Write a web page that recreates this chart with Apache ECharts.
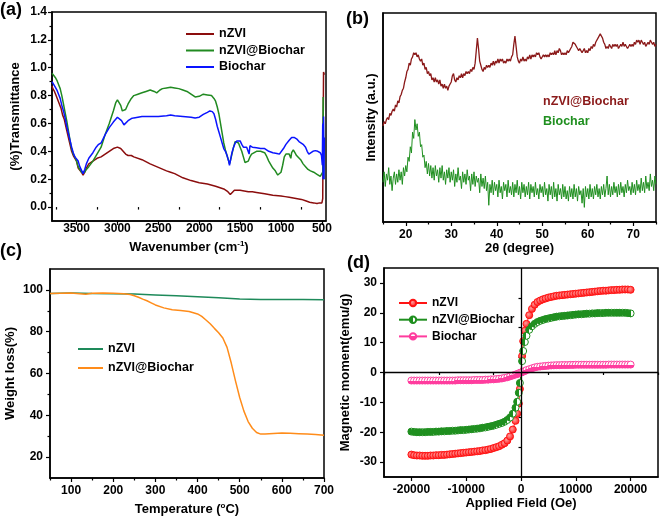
<!DOCTYPE html>
<html><head><meta charset="utf-8">
<script src="https://cdn.jsdelivr.net/npm/echarts@6/dist/echarts.min.js"></script>
<style>html,body{margin:0;padding:0;background:#fff}#c{width:661px;height:517px}</style>
</head><body><div id="c"></div><script>
// ---------- (a) FTIR ----------
const ftirNzviWave = [3800,3790,3780,3770,3760,3750,3740,3730,3720,3710,3700,3690,3680,3670,3660,3650,3640,3620,3600,3580,3560,3540,3520,3500,3480,3460,3440,3420,3400,3380,3350,3300,3250,3200,3150,3100,3050,3000,2960,2930,2900,2870,2830,2800,2700,2600,2500,2400,2350,2300,2200,2100,2000,1900,1800,1700,1650,1620,1600,1570,1550,1500,1450,1400,1380,1350,1300,1200,1100,1000,950,900,850,800,750,700,650,600,560,530,500,490,480,470];
const ftirNzvi = [0.87,0.85,0.86,0.83,0.84,0.80,0.81,0.77,0.78,0.74,0.75,0.71,0.70,0.66,0.67,0.63,0.62,0.55,0.50,0.45,0.40,0.37,0.35,0.33,0.28,0.27,0.25,0.23,0.25,0.28,0.31,0.33,0.35,0.36,0.38,0.40,0.42,0.43,0.42,0.40,0.38,0.37,0.37,0.36,0.34,0.31,0.285,0.26,0.25,0.24,0.21,0.19,0.175,0.165,0.15,0.13,0.11,0.09,0.10,0.12,0.125,0.12,0.115,0.11,0.105,0.11,0.105,0.095,0.085,0.08,0.075,0.07,0.065,0.06,0.055,0.045,0.035,0.03,0.025,0.03,0.03,0.06,0.97,0.95];
const ftirCompWave = [3800,3780,3760,3740,3720,3700,3680,3660,3640,3620,3600,3580,3560,3540,3520,3500,3480,3460,3440,3420,3400,3380,3350,3300,3250,3200,3150,3100,3050,3020,3000,2980,2960,2940,2920,2900,2870,2830,2800,2750,2700,2650,2600,2550,2520,2480,2450,2400,2350,2300,2250,2200,2150,2100,2050,2000,1950,1900,1850,1820,1800,1780,1760,1740,1720,1700,1680,1660,1640,1630,1620,1600,1580,1560,1540,1520,1500,1480,1460,1440,1420,1400,1380,1360,1340,1300,1250,1200,1180,1150,1120,1100,1070,1040,1020,1000,980,960,940,920,900,880,870,850,830,810,790,760,730,700,670,640,600,560,520,500,490,485,480,475];
const ftirComp = [0.96,0.95,0.93,0.91,0.88,0.85,0.80,0.74,0.68,0.62,0.55,0.48,0.42,0.38,0.36,0.33,0.29,0.27,0.25,0.24,0.25,0.27,0.29,0.33,0.38,0.43,0.52,0.60,0.69,0.75,0.77,0.76,0.73,0.69,0.68,0.70,0.74,0.78,0.80,0.81,0.82,0.83,0.84,0.83,0.82,0.84,0.85,0.855,0.86,0.855,0.85,0.84,0.83,0.81,0.79,0.795,0.81,0.805,0.80,0.78,0.76,0.72,0.67,0.60,0.53,0.46,0.41,0.37,0.33,0.31,0.33,0.38,0.43,0.47,0.48,0.46,0.43,0.40,0.36,0.32,0.31,0.33,0.36,0.38,0.39,0.40,0.40,0.39,0.37,0.33,0.30,0.28,0.26,0.23,0.23,0.25,0.30,0.36,0.38,0.385,0.38,0.35,0.39,0.41,0.39,0.37,0.36,0.34,0.31,0.29,0.27,0.26,0.25,0.235,0.22,0.21,0.25,0.79,0.40,0.20];
const ftirBioWave = [3800,3780,3760,3740,3720,3700,3680,3660,3640,3620,3600,3580,3560,3540,3520,3500,3480,3460,3440,3420,3400,3380,3350,3300,3260,3230,3200,3150,3100,3050,3000,2980,2950,2920,2900,2870,2830,2800,2700,2600,2500,2400,2350,2300,2200,2100,2050,2000,1950,1900,1870,1840,1820,1800,1780,1760,1740,1720,1700,1680,1660,1640,1630,1620,1600,1580,1560,1540,1520,1500,1480,1460,1440,1420,1400,1390,1380,1350,1300,1250,1200,1150,1100,1050,1020,1000,970,940,900,870,840,810,780,760,730,700,680,660,640,610,580,550,520,505,495,490,485,480,475,470];
const ftirBio = [0.90,0.88,0.86,0.84,0.81,0.78,0.73,0.69,0.64,0.58,0.53,0.48,0.43,0.39,0.36,0.35,0.33,0.29,0.30,0.24,0.27,0.31,0.35,0.39,0.43,0.45,0.46,0.52,0.57,0.61,0.645,0.64,0.62,0.59,0.60,0.62,0.635,0.64,0.65,0.65,0.65,0.655,0.66,0.655,0.65,0.645,0.64,0.645,0.665,0.68,0.69,0.685,0.67,0.63,0.58,0.54,0.50,0.46,0.42,0.40,0.37,0.33,0.30,0.33,0.39,0.43,0.46,0.475,0.48,0.475,0.45,0.43,0.43,0.43,0.44,0.38,0.44,0.43,0.425,0.42,0.42,0.40,0.39,0.385,0.38,0.39,0.42,0.45,0.48,0.50,0.50,0.49,0.47,0.46,0.45,0.43,0.40,0.38,0.39,0.40,0.405,0.40,0.39,0.37,0.30,0.60,0.20,0.65,0.20,0.50];
const ftirXTicks = [3500,3000,2500,2000,1500,1000,500];
const ftirXMinor = [3750,3250,2750,2250,1750,1250,750];
const ftirYTicks = [0,0.2,0.4,0.6,0.8,1.0,1.2,1.4];
const ftirYMinor = [0.1,0.3,0.5,0.7,0.9,1.1,1.3];

// ---------- (b) XRD (0.25 degree steps from 15 to 75) ----------
const xrdStart = 15, xrdStep = 0.25;
const xrdComposite = [
46,48,47,49, 50,49,52,51, 53,54,53,56, 55,58,57,60, 61,63,64,67, 69,72,73,76, 75,78,79,81, 80,81,79,80,
78,77,78,75, 76,73,74,71, 72,70,71,68, 69,67,69,67, 68,66,68,65, 66,64,66,64, 65,63,65,66, 67,70,71,68,
67,69,68,70, 69,71,69,71, 70,72,71,72, 71,73,72,74, 73,76,82,88, 83,77,75,73, 72,74,73,75, 74,75,74,76,
75,77,75,77, 76,78,76,78, 77,78,76,77, 76,78,77,78, 77,79,80,85, 89,84,79,77, 76,78,77,79, 77,78,77,79,
78,80,78,80, 79,80,79,81, 80,81,79,78, 78,80,79,80, 79,80,79,81, 80,81,80,82, 80,82,81,83, 82,80,81,80,
81,80,82,81, 82,83,84,86, 86,85,84,83, 82,83,82,81, 82,83,81,82, 81,83,82,84, 83,85,84,86, 86,88,88,90,
89,88,86,85, 83,84,83,85, 84,83,85,84, 85,84,85,83, 84,85,84,86, 84,85,84,83, 84,85,84,85, 84,86,85,87,
86,87,85,87, 86,85,86,84, 85,86,85,87, 86,85,86,84, 85];
const xrdBiochar = [
19,24,17,23, 20,26,18,22, 15,21,24,18, 23,19,25,20, 24,18,26,22, 27,24,31,29, 36,33,43,40, 49,44,47,41,
43,36,37,31, 32,26,29,23, 28,22,27,21, 26,20,27,22, 25,19,26,21, 27,20,24,18, 25,21,26,19, 24,20,25,17,
23,19,26,20, 22,16,24,19, 23,18,25,20, 22,15,23,18, 24,17,22,19, 21,14,23,17, 21,16,22,15, 19,8,18,14,
20,13,19,15, 18,12,20,14, 17,11,19,15, 18,12,20,14, 17,13,19,12, 18,14,20,13, 17,11,19,14, 18,12,17,13,
19,11,18,14, 17,12,19,13, 16,11,18,14, 17,12,19,13, 16,10,18,13, 17,11,19,12, 16,10,18,13, 16,11,18,12,
17,11,15,10, 17,12,16,11, 18,12,16,10, 17,13,15,9, 16,7,17,12, 16,11,18,12, 16,11,17,13, 18,12,16,11,
17,13,18,12, 16,22,13,18, 12,17,13,19, 14,17,12,18, 13,19,14,17, 12,18,14,20, 15,17,13,19, 14,18,13,20,
15,18,14,21, 15,19,14,22, 16,19,15,23, 17,20,15,22, 18];
const xrdXTicks = [20,30,40,50,60,70];
const xrdXMinor = [15,25,35,45,55,65,75];

// ---------- (c) TGA ----------
const tgaTempComp = [50,75,100,120,135,150,175,200,225,240,250,260,270,280,290,300,320,340,360,380,400,410,420,430,440,450,460,470,480,490,500,510,520,530,540,550,560,580,600,620,640,660,680,700];
const tgaComp = [98.3,98.4,98.5,98.2,97.9,98.4,98.5,98.4,98.2,97.8,97.2,96.5,95.6,94.8,93.8,92.8,91.4,90.5,90.2,89.7,88.5,87.3,85.6,83.8,81.6,79.5,77.0,72.5,65.0,56.5,48.5,42.0,37.0,33.8,31.8,31.0,31.0,31.3,31.5,31.4,31.2,31.0,30.8,30.5];
const tgaTempNzvi = [50,100,150,200,250,300,350,400,450,500,550,600,650,700];
const tgaNzvi = [98.3,98.5,98.3,98.2,98.0,97.6,97.2,96.7,96.2,95.7,95.4,95.4,95.4,95.3];
const tgaXTicks = [100,200,300,400,500,600,700];
const tgaXMinor = [50,150,250,350,450,550,650];
const tgaYTicks = [20,40,60,80,100];
const tgaYMinor = [30,50,70,90];

// ---------- (d) VSM ----------
const vsmField = [-20000,-19500,-19000,-18500,-18000,-17500,-17000,-16500,-16000,-15500,-15000,-14500,-14000,-13500,-13000,-12500,-12000,-11500,-11000,-10500,-10000,-9500,-9000,-8500,-8000,-7500,-7000,-6500,-6000,-5500,-5000,-4500,-4000,-3500,-3000,-2500,-2000,-1500,-1000,-700,-400,-200,0,200,400,700,1000,1500,2000,2500,3000,3500,4000,4500,5000,5500,6000,6500,7000,7500,8000,8500,9000,9500,10000,10500,11000,11500,12000,12500,13000,13500,14000,14500,15000,15500,16000,16500,17000,17500,18000,18500,19000,19500,20000];
const vsmNzvi = [-27.5,-27.7,-27.8,-27.8,-27.9,-27.9,-27.9,-27.8,-27.8,-27.7,-27.7,-27.6,-27.6,-27.5,-27.4,-27.3,-27.2,-27.1,-27.0,-26.9,-26.8,-26.7,-26.6,-26.5,-26.4,-26.3,-26.1,-26.0,-25.8,-25.6,-25.3,-25.0,-24.7,-24.2,-23.7,
-22.8,-21.4,-19.1,-16.2,-13.8,-10.4,-5.5, 0, 5.5,10.5,14.0,16.3,19.2,21.3,22.7,
23.6,24.1,24.5,24.8,25.1,25.3,25.5,25.7,25.8,25.9,26.0,26.1,26.2,26.3,26.4,26.5,26.6,26.7,26.8,26.9,27.0,27.1,27.2,27.3,27.4,27.4,27.5,27.6,27.6,27.7,27.7,27.8,27.8,27.8,27.7];
const vsmComp = [-19.8,-19.9,-20.0,-20.0,-20.0,-20.0,-19.9,-19.9,-19.9,-19.8,-19.8,-19.7,-19.7,-19.6,-19.6,-19.5,-19.5,-19.4,-19.3,-19.3,-19.2,-19.1,-19.0,-18.9,-18.8,-18.7,-18.5,-18.4,-18.2,-18.0,-17.8,-17.5,-17.2,-16.9,-16.5,
-15.9,-15.1,-13.8,-11.8,-9.8,-6.8,-3.5, 0, 3.8,7.2,10.2,12.3,14.3,15.5,16.3,
16.9,17.3,17.6,17.9,18.1,18.3,18.5,18.7,18.8,18.9,19.0,19.1,19.2,19.3,19.4,19.5,19.5,19.6,19.7,19.7,19.8,19.8,19.9,19.9,19.9,20.0,20.0,20.0,20.0,20.0,20.0,20.0,20.0,19.9,19.8];
const vsmBio = [-2.7,-2.7,-2.7,-2.7,-2.7,-2.7,-2.7,-2.7,-2.7,-2.7,-2.7,-2.7,-2.7,-2.7,-2.7,-2.7,-2.7,-2.6,-2.6,-2.6,-2.6,-2.6,-2.6,-2.5,-2.5,-2.5,-2.5,-2.4,-2.4,-2.3,-2.3,-2.2,-2.1,-2.0,-1.8,
-1.6,-1.3,-1.0,-0.7,-0.5,-0.3,-0.15, 0, 0.15,0.3,0.5,0.8,1.1,1.4,1.7,
1.9,2.0,2.1,2.2,2.3,2.35,2.4,2.45,2.45,2.5,2.5,2.5,2.55,2.55,2.6,2.6,2.6,2.6,2.6,2.6,2.6,2.6,2.6,2.6,2.6,2.6,2.65,2.65,2.65,2.65,2.65,2.65,2.65,2.65,2.65];
const vsmXTicks = [-20000,-10000,0,10000,20000];
const vsmXMinor = [-25000,-15000,-5000,5000,15000,25000];
const vsmYTicks = [-30,-20,-10,0,10,20,30];
const vsmYMinor = [-25,-15,-5,5,15,25];

// ---------- build ----------
const F = '"Liberation Sans", Arial, Helvetica, sans-serif';
const K = '#000';
const zip = (xs, ys) => xs.map((x, i) => [x, ys[i]]);
const xrdX = i => xrdStart + i * xrdStep;

function mainAxis(o) {
  return {
    type: 'value', gridIndex: o.g, min: o.min, max: o.max, inverse: !!o.inverse, position: o.pos,
    name: o.name || '', nameLocation: 'middle', nameGap: o.nameGap,
    nameTextStyle: { color: K, fontFamily: F, fontWeight: 'bold', fontSize: 13,
      rich: { sup: { fontSize: 8, fontWeight: 'bold', fontFamily: F, color: K, padding: [0, 0, 7, 0] } } },
    axisLine: { show: true, onZero: false, lineStyle: { color: K, width: 1.5 } },
    axisTick: { show: o.ticks !== false, customValues: o.majors, length: 4, lineStyle: { color: K, width: 1.2 } },
    axisLabel: { show: o.labels !== false, customValues: o.majors, margin: o.margin,
      formatter: o.fmt || (v => String(v)), color: K, fontFamily: F, fontWeight: 'bold', fontSize: 12 },
    splitLine: { show: false }
  };
}
function minorAxis(o) {
  return {
    type: 'value', gridIndex: o.g, min: o.min, max: o.max, inverse: !!o.inverse, position: o.pos,
    axisLine: { show: false },
    axisTick: { show: true, customValues: o.minors, length: 2.5, lineStyle: { color: K, width: 1.2 } },
    axisLabel: { show: false }, splitLine: { show: false }
  };
}
const gridBase = { show: true, borderColor: K, borderWidth: 1.5, backgroundColor: 'transparent' };

const xa = { g: 0, min: 450, max: 3800, inverse: true, pos: 'bottom', majors: ftirXTicks, minors: ftirXMinor, margin: 2,
  name: 'Wavenumber (cm{sup|-1})', nameGap: 19 };
const ya = { g: 0, min: -0.1, max: 1.4, pos: 'left', majors: ftirYTicks, minors: ftirYMinor, margin: 5,
  fmt: v => v.toFixed(1), name: '(%)Transmittance', nameGap: 30 };
const xb = { g: 1, min: 15, max: 75, pos: 'bottom', majors: xrdXTicks, minors: xrdXMinor, margin: 7,
  name: '2θ (degree)', nameGap: 20 };
const yb = { g: 1, min: 0, max: 100, pos: 'left', majors: [], minors: [], ticks: false, labels: false,
  name: 'Intensity (a.u.)', nameGap: 5 };
const xc = { g: 2, min: 50, max: 700, pos: 'bottom', majors: tgaXTicks, minors: tgaXMinor, margin: 7,
  name: 'Temperature ({sup|o}C)', nameGap: 24 };
const yc = { g: 2, min: 10, max: 110, pos: 'left', majors: tgaYTicks, minors: tgaYMinor, margin: 7,
  name: 'Weight loss(%)', nameGap: 33 };
const xd = { g: 3, min: -25000, max: 25000, pos: 'bottom', majors: vsmXTicks, minors: vsmXMinor, margin: 7,
  name: 'Applied Field (Oe)', nameGap: 19 };
const yd = { g: 3, min: -35, max: 35, pos: 'left', majors: vsmYTicks, minors: vsmYMinor, margin: 7,
  name: 'Magnetic moment(emu/g)', nameGap: 32 };

const strip = n => n.split('_')[1];
const legText = { color: K, fontFamily: F, fontWeight: 'bold', fontSize: 12.5, lineHeight: 14 };
const legTextD = { color: K, fontFamily: F, fontWeight: 'bold', fontSize: 12, lineHeight: 14 };

const redFill = { type: 'radial', x: 0.4, y: 0.4, r: 0.6, colorStops: [{ offset: 0, color: '#ff9c9c' }, { offset: 1, color: '#ff1414' }] };
const greenFill = { type: 'linear', x: 0, y: 0, x2: 1, y2: 0, colorStops: [{ offset: 0, color: '#1f8f1f' }, { offset: 0.5, color: '#1f8f1f' }, { offset: 0.5, color: '#ffffff' }, { offset: 1, color: '#ffffff' }] };
const pinkFill = { type: 'linear', x: 0, y: 0, x2: 0, y2: 1, colorStops: [{ offset: 0, color: '#ffffff' }, { offset: 0.5, color: '#ffffff' }, { offset: 0.5, color: '#ff3c9e' }, { offset: 1, color: '#ff3c9e' }] };

function lineSeries(name, xi, data, color, width) {
  return { name, type: 'line', xAxisIndex: xi, yAxisIndex: xi, data, symbol: 'none', color,
    lineStyle: { color, width }, silent: true };
}
function vsmSeries(name, data, color, fill) {
  return { name, type: 'line', xAxisIndex: 3, yAxisIndex: 3, data, color,
    symbol: 'circle', symbolSize: 7, showSymbol: true, showAllSymbol: true,
    itemStyle: { color: fill, borderColor: color, borderWidth: 1 },
    lineStyle: { color, width: 1 }, silent: true };
}

const vsmRed = vsmSeries('d_nZVI', zip(vsmField, vsmNzvi), '#ff1414', redFill);
vsmRed.markLine = { silent: true, symbol: 'none', label: { show: false },
  lineStyle: { color: K, width: 1.3, type: 'solid' }, data: [{ yAxis: 0 }, { xAxis: 0 }] };

const option = {
  animation: false,
  backgroundColor: '#fff',
  grid: [
    Object.assign({ left: 52, top: 12, width: 274, height: 209 }, gridBase),
    Object.assign({ left: 383, top: 13, width: 273, height: 209 }, gridBase),
    Object.assign({ left: 50, top: 269, width: 274, height: 209 }, gridBase),
    Object.assign({ left: 384, top: 268, width: 274, height: 209 }, gridBase)
  ],
  xAxis: [mainAxis(xa), mainAxis(xb), mainAxis(xc), mainAxis(xd), minorAxis(xa), minorAxis(xb), minorAxis(xc), minorAxis(xd)],
  yAxis: [mainAxis(ya), mainAxis(yb), mainAxis(yc), mainAxis(yd), minorAxis(ya), minorAxis(yc), minorAxis(yd)],
  legend: [
    { left: 181, top: 22, orient: 'vertical', icon: 'rect', itemWidth: 28, itemHeight: 2, itemGap: 2.5, selectedMode: false,
      data: ['a_nZVI', 'a_nZVI@Biochar', 'a_Biochar'], formatter: strip, textStyle: legText },
    { left: 73, top: 337, orient: 'vertical', icon: 'rect', itemWidth: 25, itemHeight: 2, itemGap: 5, selectedMode: false,
      data: ['c_nZVI', 'c_nZVI@Biochar'], formatter: strip, textStyle: legText },
    { left: 393, top: 291, orient: 'vertical', itemWidth: 28, itemHeight: 8, itemGap: 2.7, selectedMode: false,
      data: ['d_nZVI', 'd_nZVI@Biochar', 'd_Biochar'], formatter: strip, textStyle: legTextD }
  ],
  graphic: [
    { type: 'text', left: 0, top: 1, style: { text: '(a)', font: 'bold 18px ' + F, fill: K } },
    { type: 'text', left: 346, top: 10, style: { text: '(b)', font: 'bold 18px ' + F, fill: K } },
    { type: 'text', left: 0, top: 242, style: { text: '(c)', font: 'bold 18px ' + F, fill: K } },
    { type: 'text', left: 347, top: 254, style: { text: '(d)', font: 'bold 18px ' + F, fill: K } },
    { type: 'text', left: 543, top: 95, style: { text: 'nZVI@Biochar', font: 'bold 12.5px ' + F, fill: '#8b1a1a' } },
    { type: 'text', left: 543, top: 115, style: { text: 'Biochar', font: 'bold 12.5px ' + F, fill: '#1f8f1f' } }
  ],
  series: [
    lineSeries('a_nZVI', 0, zip(ftirNzviWave, ftirNzvi), '#8b0d0d', 1.5),
    lineSeries('a_nZVI@Biochar', 0, zip(ftirCompWave, ftirComp), '#218a21', 1.5),
    lineSeries('a_Biochar', 0, zip(ftirBioWave, ftirBio), '#0a14ff', 1.5),
    lineSeries('b_nZVI@Biochar', 1, xrdComposite.map((v, i) => [xrdX(i), v]), '#8b1a1a', 1.3),
    lineSeries('b_Biochar', 1, xrdBiochar.map((v, i) => [xrdX(i), v]), '#1f8f1f', 1),
    lineSeries('c_nZVI', 2, zip(tgaTempNzvi, tgaNzvi), '#1e8a5a', 1.5),
    lineSeries('c_nZVI@Biochar', 2, zip(tgaTempComp, tgaComp), '#ff8c1a', 1.5),
    vsmRed,
    vsmSeries('d_nZVI@Biochar', zip(vsmField, vsmComp), '#1f8f1f', greenFill),
    vsmSeries('d_Biochar', zip(vsmField, vsmBio), '#ff3c9e', pinkFill)
  ]
};
const chart = echarts.init(document.getElementById('c'));
chart.setOption(option);
</script></body></html>
